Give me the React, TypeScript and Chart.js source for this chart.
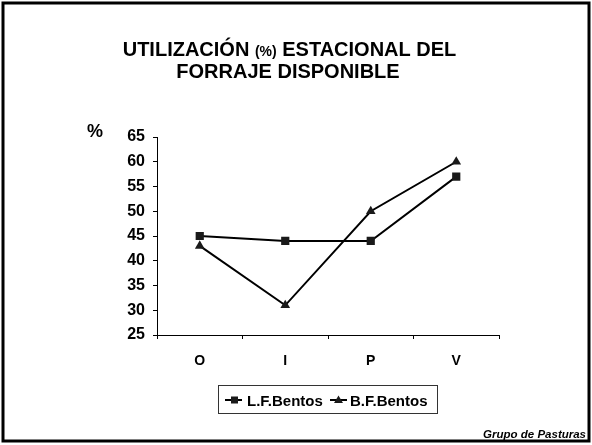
import React, { useEffect, useRef } from "react";
import { Chart, registerables } from "chart.js";

Chart.register(...registerables);

const categories = ["O", "I", "P", "V"];
const lfBentos = [45, 44, 44, 57];
const bfBentos = [43, 31, 50, 60];
const seriesNames = ["L.F.Bentos", "B.F.Bentos"];
const yMin = 25;
const yMax = 65;
const yStep = 5;
const titleLine1 = ["UTILIZACIÓN ", "(%)", " ESTACIONAL DEL"];
const titleLine2 = "FORRAJE DISPONIBLE";
const yUnit = "%";
const footer = "Grupo de Pasturas";

const FF = "'Liberation Sans', Arial, Helvetica, sans-serif";

const decorPlugin = {
  id: "decor",
  beforeDraw(chart: any) {
    const ctx = chart.ctx;
    ctx.save();
    ctx.fillStyle = "#fff";
    ctx.fillRect(0, 0, chart.width, chart.height);
    ctx.restore();
  },
  afterDraw(chart: any) {
    const ctx = chart.ctx;
    ctx.save();
    // border
    ctx.strokeStyle = "#000";
    ctx.lineWidth = 3;
    ctx.strokeRect(3, 3, 586, 438);

    // title line 1 (mixed sizes)
    ctx.fillStyle = "#000";
    ctx.textBaseline = "alphabetic";
    ctx.textAlign = "left";
    const sizes = [20, 14, 20];
    let total = 0;
    const widths: number[] = [];
    titleLine1.forEach((t, i) => {
      ctx.font = `bold ${sizes[i]}px ${FF}`;
      const w = ctx.measureText(t).width;
      widths.push(w);
      total += w;
    });
    let x = 289.5 - total / 2;
    titleLine1.forEach((t, i) => {
      ctx.font = `bold ${sizes[i]}px ${FF}`;
      ctx.fillText(t, x, 56);
      x += widths[i];
    });
    ctx.font = `bold 20px ${FF}`;
    ctx.textAlign = "center";
    ctx.fillText(titleLine2, 288, 78);

    // y unit
    ctx.textAlign = "left";
    ctx.font = `bold 18px ${FF}`;
    ctx.fillText(yUnit, 87, 137);

    // legend
    ctx.lineWidth = 1;
    ctx.strokeStyle = "#333";
    ctx.strokeRect(218.5, 385.5, 219, 28);
    const items = [
      { x0: 225, x1: 242, cx: 234.5, tx: 247, style: "rect" },
      { x0: 330, x1: 347, cx: 338.5, tx: 350, style: "tri" },
    ];
    items.forEach((it, i) => {
      ctx.strokeStyle = "#000";
      ctx.lineWidth = 2;
      ctx.beginPath();
      ctx.moveTo(it.x0, 400);
      ctx.lineTo(it.x1, 400);
      ctx.stroke();
      ctx.fillStyle = "#1a1a1a";
      if (it.style === "rect") {
        ctx.fillRect(it.cx - 3.5, 400 - 3.5, 7, 7);
      } else {
        ctx.beginPath();
        ctx.moveTo(it.cx, 395.5);
        ctx.lineTo(it.cx + 4.5, 403);
        ctx.lineTo(it.cx - 4.5, 403);
        ctx.closePath();
        ctx.fill();
      }
      ctx.fillStyle = "#000";
      ctx.font = `bold 15px ${FF}`;
      ctx.fillText(seriesNames[i], it.tx, 406);
    });

    // footer
    ctx.font = `italic bold 11.5px ${FF}`;
    ctx.textAlign = "right";
    ctx.fillText(footer, 586, 438);
    ctx.restore();
  },
};

export default function App() {
  const ref = useRef<HTMLCanvasElement | null>(null);
  useEffect(() => {
    if (!ref.current) return;
    const chart = new Chart(ref.current, {
      type: "line",
      data: {
        labels: categories,
        datasets: [
          {
            label: seriesNames[0],
            data: lfBentos,
            borderColor: "#000",
            backgroundColor: "#1a1a1a",
            borderWidth: 2,
            pointStyle: "rect",
            pointRadius: 5.8,
            pointBackgroundColor: "#1a1a1a",
            pointBorderColor: "#1a1a1a",
            pointBorderWidth: 0,
            tension: 0,
          },
          {
            label: seriesNames[1],
            data: bfBentos,
            borderColor: "#000",
            backgroundColor: "#1a1a1a",
            borderWidth: 2,
            pointStyle: "triangle",
            pointRadius: 5.6,
            pointBackgroundColor: "#1a1a1a",
            pointBorderColor: "#1a1a1a",
            pointBorderWidth: 0,
            tension: 0,
          },
        ],
      },
      options: {
        responsive: false,
        animation: false,
        layout: { padding: { left: 100, right: 93, top: 137, bottom: 50 } },
        plugins: {
          legend: { display: false },
          title: { display: false },
          tooltip: { enabled: false },
        },
        scales: {
          x: {
            offset: true,
            grid: {
              offset: true,
              drawOnChartArea: false,
              drawTicks: true,
              tickLength: 4,
              color: "#000",
            },
            border: { display: true, color: "#000", width: 1 },
            ticks: {
              color: "#000",
              font: { family: FF, size: 14, weight: "bold" },
              padding: 14,
            },
            afterFit: (s: any) => {
              s.height = 60;
            },
          },
          y: {
            min: yMin,
            max: yMax,
            grid: {
              drawOnChartArea: false,
              drawTicks: true,
              tickLength: 4,
              color: "#000",
            },
            border: { display: true, color: "#000", width: 1 },
            ticks: {
              stepSize: yStep,
              color: "#000",
              font: { family: FF, size: 16, weight: "bold" },
              padding: 8,
            },
            afterFit: (s: any) => {
              s.width = 57;
            },
          },
        },
      },
      plugins: [decorPlugin],
    });
    return () => chart.destroy();
  }, []);
  return (
    <div style={{ position: "absolute", left: 0, top: 0, width: 592, height: 445 }}>
      <canvas ref={ref} width={592} height={445} style={{ display: "block" }} />
    </div>
  );
}
